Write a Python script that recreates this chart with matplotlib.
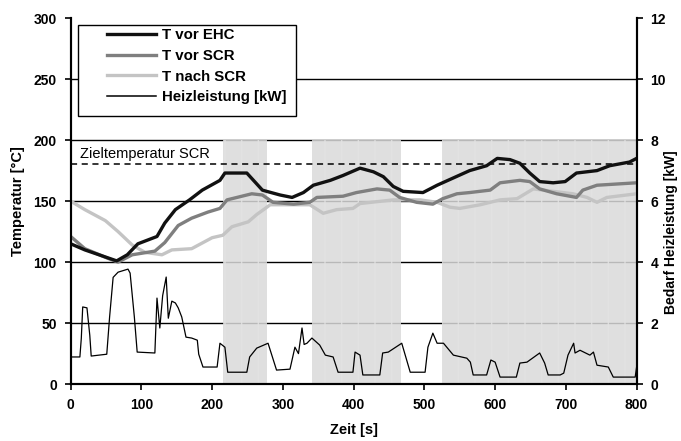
import matplotlib
matplotlib.use("Agg")
import matplotlib.pyplot as plt
from matplotlib.lines import Line2D
from matplotlib.patches import Rectangle

plt.rcParams['font.family'] = ['Liberation Sans', 'DejaVu Sans']

# Temperatures [°C] over time [s]
t_ehc = [0, 20, 45, 65, 80, 95, 122, 133, 148, 168, 186, 211, 218, 249, 271, 277, 296, 313, 329,
         343, 367, 385, 409, 428, 442, 456, 470, 498, 518, 541, 564, 588, 603, 621, 635, 649,
         663, 682, 699, 715, 744, 762, 790, 800]
T_ehc = [115, 110, 105, 101, 106, 115, 121, 132, 143, 151, 159, 167, 173, 173, 159, 158, 155, 153, 157,
         163, 167, 171, 177, 174, 170, 162, 158, 157, 163, 169, 175, 179, 185, 184, 181, 173,
         166, 165, 166, 173, 175, 179, 182, 185]

t_vscr = [0, 20, 53, 67, 87, 119, 133, 152, 171, 194, 211, 221, 242, 256, 271, 286, 315, 338, 348,
          385, 404, 433, 451, 465, 489, 512, 526, 546, 564, 593, 607, 635, 649, 663, 687, 715,
          724, 744, 800]
T_vscr = [121, 111, 103, 100, 106, 109, 116, 130, 136, 141, 144, 151, 154, 156, 155, 149, 147.5, 149, 153,
          154, 157, 160, 159, 153, 149, 147.5, 152, 156, 157, 159, 165, 167, 166, 160, 156, 153,
          159, 163, 165]

t_nscr = [0, 20, 49, 67, 87, 105, 129, 143, 171, 200, 215, 228, 251, 263, 275, 282, 306, 338, 357,
          376, 399, 409, 456, 494, 518, 536, 550, 579, 607, 631, 654, 668, 710, 730, 744, 758, 800]
T_nscr = [150, 143, 134, 125, 114, 108, 106, 110, 111, 120, 122, 129, 133, 139, 144, 147, 147, 147, 140,
          143, 144, 148, 151, 151, 149, 145, 144, 147, 151, 152, 160, 159, 156, 153, 149, 153, 156]

# Heating power demand [kW]
t_heat = [0, 13, 15, 17, 23, 27, 29, 51, 55, 60, 67, 81, 84, 90, 94, 119, 122, 126, 130, 135, 138,
          143, 148, 152, 157, 163, 171, 179, 181, 187, 207, 211, 218, 222, 249, 253, 263, 279, 291,
          310, 317, 322, 327, 330, 334, 341, 352, 360, 371, 378, 399, 402, 409, 413, 437, 441, 449,
          468, 480, 501, 505, 512, 518, 527, 541, 560, 565, 569, 588, 594, 600, 607, 630, 635, 645,
          663, 670, 675, 692, 697, 703, 711, 713, 720, 734, 739, 744, 760, 767, 798, 800]
P_heat = [0.89, 0.89, 1.5, 2.53, 2.5, 1.6, 0.92, 0.98, 2.2, 3.5, 3.67, 3.77, 3.64, 2.2, 1.05, 1.02, 2.82,
          1.84, 2.9, 3.51, 2.16, 2.72, 2.66, 2.5, 2.2, 1.54, 1.51, 1.44, 0.98, 0.56, 0.56, 1.34, 1.21,
          0.39, 0.39, 0.89, 1.18, 1.34, 0.46, 0.49, 1.21, 1.0, 1.84, 1.3, 1.34, 1.51, 1.28, 0.95, 0.89,
          0.39, 0.39, 1.05, 0.95, 0.3, 0.3, 1.02, 1.05, 1.34, 0.39, 0.39, 1.21, 1.67, 1.34, 1.34, 0.95,
          0.85, 0.72, 0.3, 0.3, 0.79, 0.72, 0.23, 0.23, 0.69, 0.72, 1.02, 0.69, 0.3, 0.3, 0.36, 0.95,
          1.34, 1.02, 1.11, 0.95, 1.05, 0.62, 0.56, 0.23, 0.23, 0.56]

# Time windows with active heating (shaded)
phases = [(215, 277), (341, 467), (525, 800)]
T_target = 180
T_shade_top = 200

W, H = 681, 441
fig = plt.figure(figsize=(W / 100, H / 100), dpi=100)
ax = fig.add_axes([0.1038, 0.129, 0.831, 0.830])
ax2 = ax.twinx()

ax.set_xlim(0, 800)
ax.set_ylim(0, 300)
ax2.set_ylim(0, 12)

for x0, x1 in phases:
    ax.axvspan(x0, x1, ymin=0, ymax=T_shade_top / 300, facecolor='#dadada', alpha=0.85,
               edgecolor='#e3e3e3', hatch='|', lw=0, zorder=1)

for y in [50, 100, 150, 200, 250]:
    ax.axhline(y, color='black', lw=1.0, zorder=0.5)

ax.axhline(T_target, color='black', lw=1.1, ls=(0, (4, 3)), zorder=2)
ax.text(13, 189, 'Zieltemperatur SCR', fontsize=10.5, va='center', ha='left', zorder=3)

ax.plot(t_nscr, T_nscr, color='#c4c4c4', lw=2.4, zorder=3)
ax.plot(t_vscr, T_vscr, color='#7f7f7f', lw=2.4, zorder=3.1)
ax.plot(t_ehc, T_ehc, color='#111111', lw=2.4, zorder=3.2)
ax2.plot(t_heat, P_heat, color='black', lw=0.9)

ax.set_xticks(range(0, 801, 100))
ax.set_yticks(range(0, 301, 50))
ax2.set_yticks(range(0, 13, 2))

for a in (ax, ax2):
    a.spines['top'].set_visible(False)
    for s in ('left', 'right', 'bottom'):
        a.spines[s].set_linewidth(1.5)
    a.tick_params(direction='out', length=4, width=1.2, labelsize=10, pad=6)
    for lab in a.get_xticklabels() + a.get_yticklabels():
        lab.set_fontweight('bold')

ax.set_xlabel('Zeit [s]', fontsize=10.5, fontweight='bold', labelpad=8)
ax.set_ylabel('Temperatur [°C]', fontsize=10.5, fontweight='bold', labelpad=6)
fig.text(671 / W, 1 - 232 / H, 'Bedarf Heizleistung [kW]', fontsize=10, fontweight='bold',
         rotation=90, ha='center', va='center')

# legend frame drawn separately for its wide side margins
frame = Rectangle((78 / W, 1 - 116 / H), (296 - 78) / W, (116 - 25) / H,
                  transform=fig.transFigure, facecolor='white', edgecolor='black',
                  lw=1.0, zorder=4)
ax2.add_artist(frame)

handles = [Line2D([], [], color='#111111', lw=2.4),
           Line2D([], [], color='#7f7f7f', lw=2.4),
           Line2D([], [], color='#c4c4c4', lw=2.4),
           Line2D([], [], color='black', lw=1.1)]
labels = ['T vor EHC', 'T vor SCR', 'T nach SCR', 'Heizleistung [kW]']
leg = ax2.legend(handles, labels, loc='upper left',
                 bbox_to_anchor=((107 - 70.7) / 566, (384 - 28) / 366),
                 borderaxespad=0, frameon=False, handlelength=3.3,
                 handletextpad=0.35, labelspacing=0.45, borderpad=0,
                 prop={'weight': 'bold', 'size': 10.8})
leg.set_zorder(5)

fig.savefig('out.png', dpi=100)
